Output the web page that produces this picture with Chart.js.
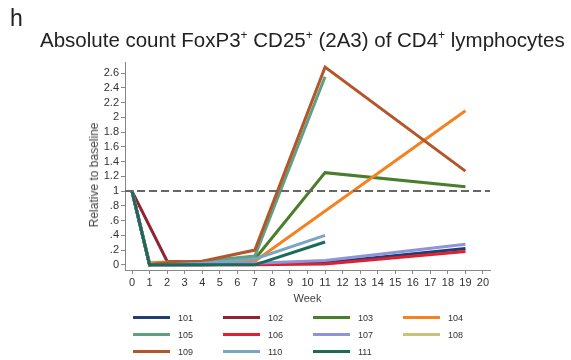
<!DOCTYPE html>
<html><head><meta charset="utf-8">
<script src="https://cdn.jsdelivr.net/npm/chart.js@4/dist/chart.umd.min.js"></script>
<style>
html,body{margin:0;padding:0;background:#fff;}
body{width:571px;height:360px;position:relative;overflow:hidden;font-family:"Liberation Sans",Arial,sans-serif;}
#wrap{position:absolute;left:0;top:0;width:571px;height:360px;}
#panel{position:absolute;left:10px;top:5px;font-size:23px;color:#222;}
#title{position:absolute;left:40px;top:28px;font-size:20.5px;color:#222;white-space:nowrap;}
#title sup{font-size:12px;vertical-align:8px;line-height:0;}
#ytitle{position:absolute;left:94px;top:175px;font-size:12px;color:#444;white-space:nowrap;transform:translate(-50%,-50%) rotate(-90deg);}
#legend{position:absolute;left:133px;top:309px;display:grid;grid-template-columns:repeat(4,90px);grid-auto-rows:17px;}
.li{display:flex;align-items:center;font-size:9px;color:#333;}
.li span.sw{display:inline-block;width:37px;height:3px;margin-right:8px;}
</style></head>
<body>
<div id="wrap"><canvas id="c" width="571" height="360"></canvas></div>
<div id="panel">h</div>
<div id="title">Absolute count FoxP3<sup>+</sup> CD25<sup>+</sup> (2A3) of CD4<sup>+</sup> lymphocytes</div>
<div id="ytitle">Relative to baseline</div>
<div id="legend"></div>
<script>
// Data
const weeks = [0, 1, 2, 4, 7, 11, 19];
const seriesNames = ["101","102","103","104","105","106","107","108","109","110","111"];
const s101 = [1, 0, 0.0, 0.0, 0.01, 0.03, 0.22];
const s102 = [1, null, 0.05, 0.04, 0.04, null, null];
const s103 = [1, 0, 0.03, 0.03, 0.08, 1.25, 1.06];
const s104 = [1, 0.03, 0.04, 0.04, 0.05, null, 2.09];
const s105 = [1, 0, 0.02, 0.05, 0.12, 2.55, null];
const s106 = [1, 0, 0, 0, 0, 0.01, 0.18];
const s107 = [1, 0, 0, 0, 0.02, 0.06, 0.28];
const s108 = [1, 0, 0, 0, 0.01, 0.02, 0.21];
const s109 = [1, 0, 0.03, 0.05, 0.20, 2.68, 1.27];
const s110 = [1, 0, 0, 0.02, 0.08, 0.40, null];
const s111 = [1, 0, 0, 0, 0, 0.31, null];
const seriesValues = [s101,s102,s103,s104,s105,s106,s107,s108,s109,s110,s111];
const seriesColors = ["#1d3f73","#8e2530","#4a7d2c","#f58220","#5fa083","#e02030","#8f93d8","#c8c27c","#b4552a","#79a6c3","#1c6a5c"];
const xTicks = [0,1,2,3,4,5,6,7,8,9,10,11,12,13,14,15,16,17,18,19,20];
const yTicks = [0,0.2,0.4,0.6,0.8,1,1.2,1.4,1.6,1.8,2,2.2,2.4,2.6];
const yTickLabels = ["0",".2",".4",".6",".8","1","1.2","1.4","1.6","1.8","2","2.2","2.4","2.6"];
const baseline = 1;

const datasets = seriesValues.map((vals, i) => ({
  label: seriesNames[i],
  data: weeks.map((w, j) => vals[j] === null ? null : {x: w, y: vals[j]}).filter(p => p !== null),
  borderColor: seriesColors[i],
  backgroundColor: seriesColors[i],
  borderWidth: 3,
  pointRadius: 0,
  tension: 0,
  fill: false,
  order: seriesNames[i] === "108" ? 5 : -i
}));
datasets.push({
  label: "baseline",
  data: [{x: -0.4, y: baseline}, {x: 20.4, y: baseline}],
  borderColor: "#666666",
  borderWidth: 2,
  borderDash: [8, 4],
  pointRadius: 0,
  fill: false,
  order: -100
});

// HTML legend
const lg = document.getElementById('legend');
seriesNames.forEach((n, i) => {
  const d = document.createElement('div');
  d.className = 'li';
  d.innerHTML = '<span class="sw" style="background:' + seriesColors[i] + '"></span>' + n;
  lg.appendChild(d);
});

const tickFont = {family: "'Liberation Sans', Arial, sans-serif", size: 11};
new Chart(document.getElementById('c'), {
  type: 'line',
  data: {datasets},
  options: {
    responsive: false,
    animation: false,
    layout: {padding: {left: 80, right: 81, top: 62, bottom: 52}},
    plugins: {legend: {display: false}, tooltip: {enabled: false}},
    scales: {
      x: {
        type: 'linear', min: -0.4, max: 20.4,
        afterBuildTicks: s => { s.ticks = xTicks.map(v => ({value: v})); },
        afterFit: s => { s.height = 38; },
        grid: {drawOnChartArea: false, drawTicks: true, tickLength: 4, color: '#888'},
        border: {display: true, color: '#888', width: 1},
        ticks: {color: '#333', font: tickFont, padding: 2, maxRotation: 0, autoSkip: false,
          callback: v => String(v)},
        title: {display: true, text: 'Week', color: '#444', font: tickFont, padding: {top: 0, bottom: 2}}
      },
      y: {
        type: 'linear', min: -0.07, max: 2.75,
        afterBuildTicks: s => { s.ticks = yTicks.map(v => ({value: v})); },
        afterFit: s => { s.width = 45; },
        grid: {drawOnChartArea: false, drawTicks: true, tickLength: 4, color: '#888'},
        border: {display: true, color: '#888', width: 1},
        ticks: {color: '#333', font: tickFont, padding: 2, autoSkip: false,
          callback: (v) => { const k = yTicks.findIndex(t => Math.abs(t - v) < 1e-9); return k >= 0 ? yTickLabels[k] : ''; }},
        title: {display: false}
      }
    }
  }
});
</script>
</body></html>
